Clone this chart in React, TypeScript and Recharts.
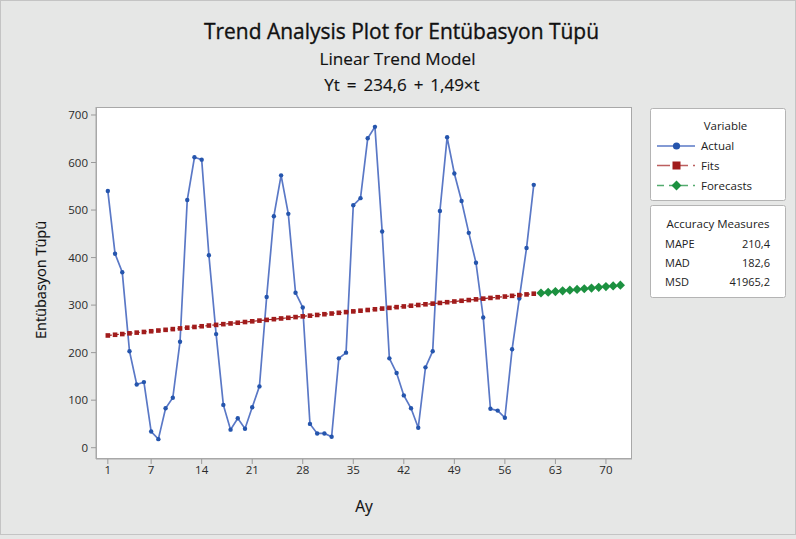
import React from 'react';
import { ComposedChart, Line, XAxis, YAxis } from 'recharts';

// t = 1..60 observed values (Ay / month index)
const actualValues = [
  540, 408, 369, 203, 133, 138, 34, 18, 83, 105,
  223, 521, 611, 606, 405, 239, 90, 38, 62, 40,
  85, 129, 317, 487, 573, 492, 326, 295, 50, 30,
  30, 23, 188, 200, 510, 525, 651, 675, 455, 188,
  157, 110, 83, 42, 169, 203, 498, 653, 577, 519,
  452, 389, 274, 82, 78, 63, 207, 314, 420, 553,
];

// fitted trend values for t = 1..60
const fitValues = [
  236.1, 237.6, 239.1, 240.6, 242.1, 243.5, 245.0, 246.5, 248.0, 249.5,
  251.0, 252.5, 254.0, 255.5, 257.0, 258.4, 259.9, 261.4, 262.9, 264.4,
  265.9, 267.4, 268.9, 270.4, 271.9, 273.3, 274.8, 276.3, 277.8, 279.3,
  280.8, 282.3, 283.8, 285.3, 286.8, 288.2, 289.7, 291.2, 292.7, 294.2,
  295.7, 297.2, 298.7, 300.2, 301.7, 303.1, 304.6, 306.1, 307.6, 309.1,
  310.6, 312.1, 313.6, 315.1, 316.6, 318.0, 319.5, 321.0, 322.5, 324.0,
];

// forecasts for t = 61..72
const forecastValues = [
  325.5, 327.0, 328.5, 330.0, 331.5, 332.9, 334.4, 335.9, 337.4, 338.9, 340.4, 341.9,
];

const xTicks = [1, 7, 14, 21, 28, 35, 42, 49, 56, 63, 70];
const yTicks = [0, 100, 200, 300, 400, 500, 600, 700];

const titleText = 'Trend Analysis Plot for Entübasyon Tüpü';
const subtitleText = 'Linear Trend Model';
const equationText = 'Yt = 234,6 + 1,49×t';
const xLabel = 'Ay';
const yLabel = 'Entübasyon Tüpü';
const legendTitle = 'Variable';
const legendNames = ['Actual', 'Fits', 'Forecasts'];
const accuracyTitle = 'Accuracy Measures';
const accuracyNames = ['MAPE', 'MAD', 'MSD'];
const accuracyValues = ['210,4', '182,6', '41965,2'];

const nActual = actualValues.length;
const data = Array.from({ length: nActual + forecastValues.length }, (_, i) => ({
  t: i + 1,
  actual: i < nActual ? actualValues[i] : null,
  fits: i < nActual ? fitValues[i] : null,
  forecast: i >= nActual ? forecastValues[i - nActual] : null,
}));

const FONT = "'Open Sans', 'Noto Sans', sans-serif";
const BLUE = '#2555ad';
const BLUE_LINE = '#5a78c6';
const RED = '#a11c1c';
const GREEN = '#1c9140';
const BG = '#e6e7e6';

const W = 796;
const H = 539;
const PL = 96;
const PT = 107;
const PR = 632;
const PB = 459;

const CircleDot = (props: any) => {
  const { cx, cy, index } = props;
  if (cx == null || cy == null || Number.isNaN(cy)) return <g key={`a${index}`} />;
  return <circle key={`a${index}`} cx={cx} cy={cy} r={2.2} fill={BLUE} />;
};

const SquareDot = (props: any) => {
  const { cx, cy, index } = props;
  if (cx == null || cy == null || Number.isNaN(cy)) return <g key={`f${index}`} />;
  return <rect key={`f${index}`} x={cx - 2.3} y={cy - 2.3} width={4.6} height={4.6} fill={RED} />;
};

const DiamondDot = (props: any) => {
  const { cx, cy, index } = props;
  if (cx == null || cy == null || Number.isNaN(cy)) return <g key={`d${index}`} />;
  const r = 4.6;
  return (
    <path
      key={`d${index}`}
      d={`M${cx},${cy - r}L${cx + r},${cy}L${cx},${cy + r}L${cx - r},${cy}Z`}
      fill={GREEN}
    />
  );
};

export default function App() {
  const tickStyle = { fontSize: 11.5, fill: '#2a2a2a', fontFamily: FONT };
  const heavy = { stroke: '#111', strokeWidth: 0.35 } as const;
  const medium = { stroke: '#111', strokeWidth: 0.15 } as const;
  return (
    <div style={{ position: 'relative', width: W, height: H, background: BG, overflow: 'hidden' }}>
      <style>{`body{margin:0;}`}</style>
      <div
        style={{
          position: 'absolute',
          left: PL,
          top: PT,
          width: PR - PL,
          height: PB - PT,
          background: '#ffffff',
          boxSizing: 'border-box',
          border: '1px solid #a8a8a8',
        }}
      />
      <div style={{ position: 'absolute', left: 0, top: 0 }}>
        <ComposedChart
          width={W}
          height={H}
          data={data}
          margin={{ top: PT, right: W - PR, bottom: H - PB - 30, left: 0 }}
        >
          <XAxis
            dataKey="t"
            type="number"
            domain={[-0.64, 73.61]}
            ticks={xTicks}
            interval={0}
            height={30}
            axisLine={{ stroke: '#a8a8a8' }}
            tickLine={{ stroke: '#9a9a9a' }}
            tickSize={5}
            tickMargin={2}
            tick={tickStyle}
            allowDataOverflow
          />
          <YAxis
            type="number"
            domain={[-23.8, 716.8]}
            ticks={yTicks}
            interval={0}
            width={PL}
            axisLine={{ stroke: '#a8a8a8' }}
            tickLine={{ stroke: '#9a9a9a' }}
            tickSize={5}
            tickMargin={3}
            tick={tickStyle}
            allowDataOverflow
          />
          <Line
            dataKey="actual"
            stroke={BLUE_LINE}
            strokeWidth={1.7}
            dot={CircleDot}
            activeDot={false}
            isAnimationActive={false}
          />
          <Line
            dataKey="fits"
            stroke={RED}
            strokeWidth={1.2}
            strokeDasharray="4 3"
            dot={SquareDot}
            activeDot={false}
            isAnimationActive={false}
          />
          <Line
            dataKey="forecast"
            stroke={GREEN}
            strokeWidth={1.2}
            strokeDasharray="4 3"
            dot={DiamondDot}
            activeDot={false}
            isAnimationActive={false}
          />
        </ComposedChart>
      </div>
      <svg
        width={W}
        height={H}
        style={{ position: 'absolute', left: 0, top: 0, pointerEvents: 'none' }}
        fontFamily={FONT}
      >
        <rect x={0.5} y={0.5} width={W - 1} height={534} fill="none" stroke="#c4c4c4" />
        <text x={401.5} y={39} textAnchor="middle" fontSize={21} fill="#111" {...heavy}
          textLength={395} lengthAdjust="spacingAndGlyphs">{titleText}</text>
        <text x={397.5} y={65} textAnchor="middle" fontSize={16} fill="#111" {...medium}
          textLength={156} lengthAdjust="spacingAndGlyphs">{subtitleText}</text>
        <text x={402} y={90.5} textAnchor="middle" fontSize={17} fill="#111" {...medium}
          wordSpacing={2.5}>{equationText}</text>
        <text x={364} y={512} textAnchor="middle" fontSize={15.5} fill="#111" {...medium}>{xLabel}</text>
        <text
          x={0}
          y={0}
          textAnchor="middle"
          fontSize={14.5}
          fill="#111"
          {...medium}
          transform={`translate(46,280) rotate(-90)`}
        >
          {yLabel}
        </text>

        {/* Legend box */}
        <rect x={650.5} y={108.5} width={135} height={92} fill="#fff" stroke="#b4b4b4" rx={2} />
        <text x={725.5} y={130} textAnchor="middle" fontSize={11.5} fill="#222">{legendTitle}</text>
        {/* Actual */}
        <line x1={657} y1={146} x2={695} y2={146} stroke={BLUE_LINE} strokeWidth={1.6} />
        <circle cx={676.5} cy={146} r={3.6} fill={BLUE} />
        <text x={701} y={150} fontSize={11.5} fill="#222">{legendNames[0]}</text>
        {/* Fits */}
        <line x1={657} y1={165.5} x2={695} y2={165.5} stroke={RED} strokeWidth={1.4} strokeDasharray="13 5" opacity={0.7} />
        <rect x={672.5} y={161.5} width={8} height={8} fill={RED} />
        <text x={701} y={169.5} fontSize={11.5} fill="#222">{legendNames[1]}</text>
        {/* Forecasts */}
        <line x1={657} y1={185.5} x2={695} y2={185.5} stroke={GREEN} strokeWidth={1.4} strokeDasharray="7 5" opacity={0.75} />
        <path d="M676.5,180.5L681.5,185.5L676.5,190.5L671.5,185.5Z" fill={GREEN} />
        <text x={701} y={189.5} fontSize={11.5} fill="#222">{legendNames[2]}</text>

        {/* Accuracy box */}
        <rect x={650.5} y={205.5} width={135} height={92} fill="#fff" stroke="#b4b4b4" rx={2} />
        <text x={718} y={228} textAnchor="middle" fontSize={11.5} fill="#222">{accuracyTitle}</text>
        {accuracyNames.map((n, i) => (
          <g key={n}>
            <text x={665} y={248 + i * 19} fontSize={11} fill="#222">{n}</text>
            <text x={770} y={248 + i * 19} textAnchor="end" fontSize={11} fill="#222">{accuracyValues[i]}</text>
          </g>
        ))}
      </svg>
    </div>
  );
}
